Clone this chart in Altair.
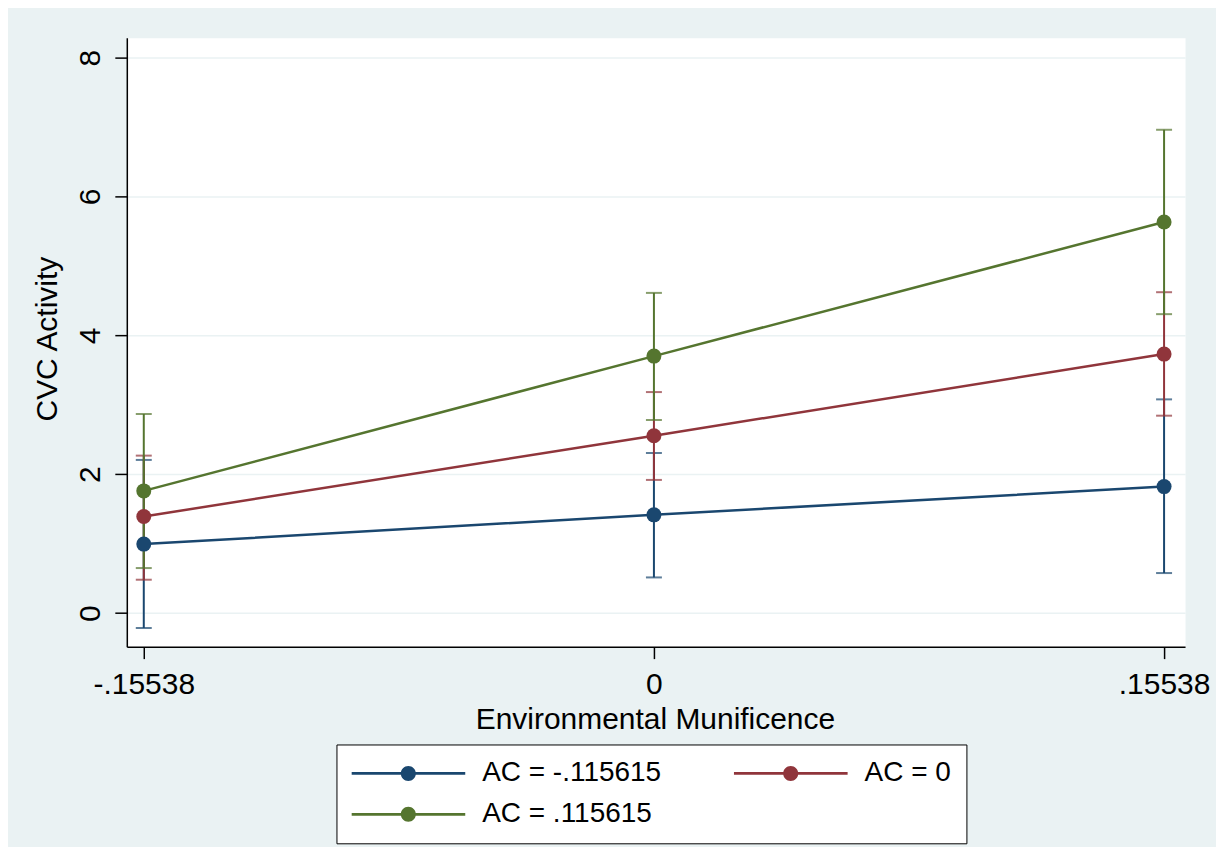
import altair as alt
import pandas as pd

# ---- data ----
x_vals = [-0.15538, 0.0, 0.15538]
x_labels = ["-.15538", "0", ".15538"]
y_ticks = [0, 2, 4, 6, 8]
series = ["AC = -.115615", "AC = 0", "AC = .115615"]
colors = ["#1A476F", "#90353B", "#55752F"]
# legend entries are laid out down the columns: this order gives
# row 1: -.115615 | 0, row 2: .115615
legend_order = ["AC = -.115615", "AC = .115615", "AC = 0"]

margin_neg = [0.995, 1.416, 1.823]
upper_neg = [2.207, 2.307, 3.079]
lower_neg = [-0.213, 0.515, 0.578]

margin_zero = [1.392, 2.556, 3.731]
upper_zero = [2.269, 3.184, 4.622]
lower_zero = [0.482, 1.919, 2.844]

margin_pos = [1.761, 3.702, 5.633]
upper_pos = [2.868, 4.612, 6.961]
lower_pos = [0.650, 2.782, 4.306]

margins = [margin_neg, margin_zero, margin_pos]
uppers = [upper_neg, upper_zero, upper_pos]
lowers = [lower_neg, lower_zero, lower_pos]

rows = []
for s, m, u, l in zip(series, margins, uppers, lowers):
    for i, xv in enumerate(x_vals):
        rows.append({"x": xv, "series": s, "y": m[i], "hi": u[i], "lo": l[i]})
df = pd.DataFrame(rows)

FONT = "Liberation Sans"
BG = "#EAF2F3"

label_expr = "".join(
    f"abs(datum.value - ({v})) < 1e-6 ? '{lab}' : " for v, lab in zip(x_vals, x_labels)
) + "''"

x_axis = alt.Axis(
    values=x_vals, labelExpr=label_expr, grid=False,
    domainColor="black", domainWidth=1.5, tickColor="black", tickWidth=1.5, tickSize=12,
    labelFont=FONT, labelFontSize=30, labelColor="black", labelBaseline="alphabetic",
    labelPadding=35, labelFlush=False, labelOverlap=False,
    titleFont=FONT, titleFontSize=30, titleFontWeight="normal", titleColor="black",
    titleX=529, titleY=82, titleBaseline="alphabetic", titleAlign="center",
)
y_axis = alt.Axis(
    values=y_ticks, grid=True, gridColor=BG, gridWidth=1.5,
    domainColor="black", domainWidth=1.5, tickColor="black", tickWidth=1.5, tickSize=12,
    labelFont=FONT, labelFontSize=30, labelColor="black", labelAngle=270,
    labelAlign="center", labelBaseline="alphabetic", labelPadding=15,
    titleFont=FONT, titleFontSize=30, titleFontWeight="normal", titleColor="black",
    titleAngle=270, titleX=-70, titleY=301.5, titleAlign="center", titleBaseline="alphabetic",
)

x_scale = alt.Scale(domain=[-0.16055, 0.16177], nice=False, zero=False)
y_scale = alt.Scale(domain=[-0.4816, 8.2875], nice=False, zero=False)
color_of = dict(zip(series, colors))
c_scale = alt.Scale(domain=legend_order, range=[color_of[s] for s in legend_order])


def X():
    return alt.X("x:Q", scale=x_scale, axis=x_axis, title="Environmental Munificence")


def Y(field):
    return alt.Y(f"{field}:Q", scale=y_scale, axis=y_axis, title="CVC Activity")


SYMBOL = ("M-1,-0.024L1,-0.024L1,0.024L-1,0.024Z "
          "M0.132,0A0.132,0.132 0 1 1 -0.132,0A0.132,0.132 0 1 1 0.132,0Z")

legend = alt.Legend(
    title=None, orient="none", legendX=210, legendY=708, columns=2,
    columnPadding=72, rowPadding=13, padding=15,
    strokeColor="black", fillColor="white",
    symbolType=SYMBOL, symbolSize=12996, symbolStrokeWidth=0, symbolOpacity=1,
    clipHeight=28, labelOffset=17,
    labelFont=FONT, labelFontSize=28, labelColor="black", labelLimit=400,
)

base = alt.Chart(df)
layers = []
# confidence intervals (spikes with caps), one series at a time
for s, c in zip(series, colors):
    sub = base.transform_filter(alt.datum.series == s)
    layers.append(sub.mark_rule(strokeWidth=2, color=c).encode(x=X(), y=Y("lo"), y2="hi:Q"))
    layers.append(sub.mark_tick(orient="horizontal", size=16, thickness=2, color=c).encode(x=X(), y=Y("lo")))
    layers.append(sub.mark_tick(orient="horizontal", size=16, thickness=2, color=c).encode(x=X(), y=Y("hi")))

# connecting lines
for s, c in zip(series, colors):
    sub = base.transform_filter(alt.datum.series == s)
    layers.append(sub.mark_line(strokeWidth=2.5, color=c).encode(x=X(), y=Y("y")))

points = base.mark_point(filled=True, size=225, opacity=1).encode(
    x=X(), y=Y("y"), color=alt.Color("series:N", scale=c_scale, legend=legend)
)

chart = alt.layer(*layers, points).properties(
    width=1060, height=610,
    autosize=alt.AutoSizeParams(type="none"),
    padding={"left": 119, "top": 29, "right": 31, "bottom": 200},
    background=BG,
).configure_view(fill="white", stroke="transparent")

chart.save("out.html", embed_options={"renderer": "svg", "actions": False})
